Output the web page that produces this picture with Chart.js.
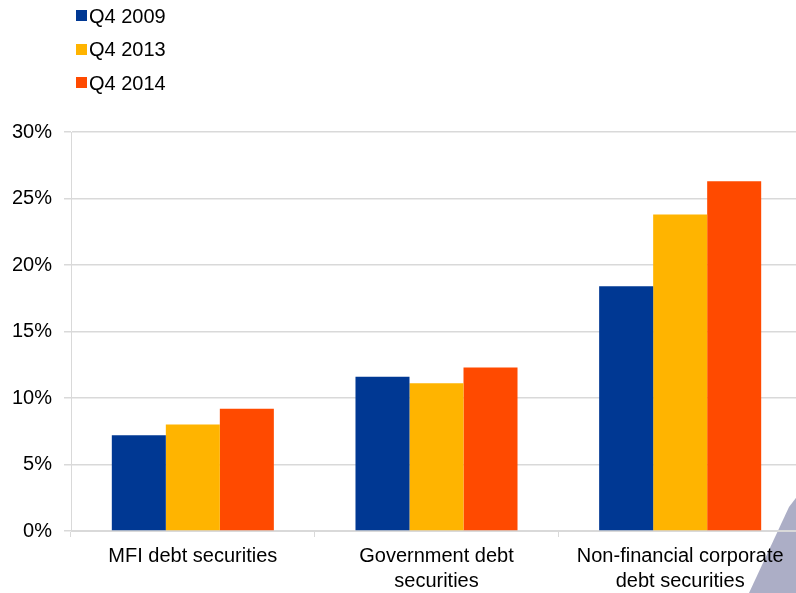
<!DOCTYPE html>
<html>
<head>
<meta charset="utf-8">
<script src="https://cdn.jsdelivr.net/npm/chart.js@4.4.1/dist/chart.umd.min.js"></script>
<style>
  html, body { margin: 0; padding: 0; background: #fff; overflow: hidden; width: 796px; height: 593px; }
  #wrap { position: absolute; left: 0; top: 0; width: 802px; height: 593px; }
  #legend { position: absolute; left: 76px; top: -1px; font-family: "Liberation Sans", Arial, sans-serif; font-size: 20px; color: #000; }
  #legend div { height: 33.5px; line-height: 24px; display: flex; align-items: center; }
  #legend span.box { display: inline-block; width: 11px; height: 11px; margin-right: 2px; }
</style>
</head>
<body>
<div id="wrap"><canvas id="myChart"></canvas></div>
<div id="legend"></div>
<script>
// chart data
const categories = [
  'MFI debt securities',
  ['Government debt', 'securities'],
  ['Non-financial corporate', 'debt securities']
]
const seriesNames = ['Q4 2009', 'Q4 2013', 'Q4 2014']
const q42009 = [7.2, 11.6, 18.4]
const q42013 = [8.0, 11.1, 23.8]
const q42014 = [9.2, 12.3, 26.3]
const yTicks = [0, 5, 10, 15, 20, 25, 30]

const colors = ['#003893', '#ffb400', '#ff4a00']
const gridColor = '#d9d9d9'
const font = { family: '"Liberation Sans", Arial, sans-serif', size: 20, lineHeight: 1.25 }

const canvas = document.getElementById('myChart')
canvas.width = 802
canvas.height = 593

// grey corner shape from the slide background, drawn under everything
const cornerShape = {
  id: 'cornerShape',
  beforeDraw(chart) {
    const c = chart.ctx
    c.save()
    c.fillStyle = '#acaec6'
    c.beginPath()
    c.moveTo(789, 507)
    c.lineTo(802, 490)
    c.lineTo(802, 593)
    c.lineTo(749, 593)
    c.closePath()
    c.fill()
    c.restore()
  }
}

const ctx = canvas.getContext('2d')
const myChart = new Chart(ctx, {
  type: 'bar',
  data: {
    labels: categories,
    datasets: [
      { label: seriesNames[0], data: q42009, backgroundColor: colors[0] },
      { label: seriesNames[1], data: q42013, backgroundColor: colors[1] },
      { label: seriesNames[2], data: q42014, backgroundColor: colors[2] }
    ]
  },
  options: {
    responsive: false,
    animation: false,
    devicePixelRatio: 1,
    layout: { padding: { top: 132, right: 0, bottom: 0, left: 0 } },
    datasets: {
      bar: { barPercentage: 1, categoryPercentage: 0.665 }
    },
    scales: {
      x: {
        grid: {
          offset: true,
          drawOnChartArea: false,
          drawTicks: true,
          tickLength: 6,
          color: gridColor
        },
        border: { color: gridColor },
        ticks: { color: '#000', font: font, padding: 7, maxRotation: 0 },
        afterFit(scale) { scale.height = 62 }
      },
      y: {
        min: 0,
        max: 30,
        afterBuildTicks(scale) { scale.ticks = yTicks.map(v => ({ value: v })) },
        grid: { color: gridColor, tickLength: 7, lineWidth: 1.5 },
        border: { color: gridColor },
        ticks: {
          color: '#000',
          font: font,
          padding: 12,
          callback: v => v + '%'
        },
        afterFit(scale) { scale.width = 71 }
      }
    },
    plugins: {
      legend: { display: false },
      tooltip: { enabled: false }
    }
  },
  plugins: [cornerShape]
})

// legend as html, built from the series
const legend = document.getElementById('legend')
seriesNames.forEach((name, i) => {
  const row = document.createElement('div')
  row.innerHTML = `<span class="box" style="background:${colors[i]}"></span>${name}`
  legend.appendChild(row)
})
</script>
</body>
</html>
